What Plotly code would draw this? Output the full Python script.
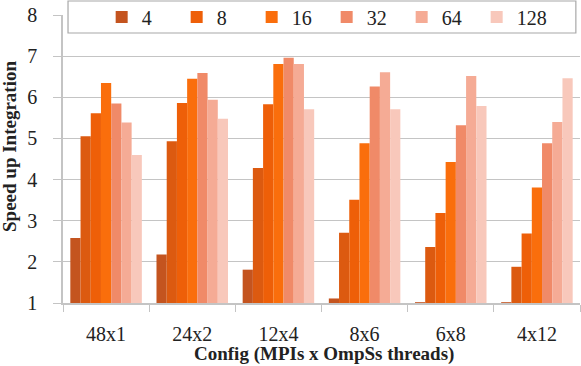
import plotly.graph_objects as go

configs = ["48x1", "24x2", "12x4", "8x6", "6x8", "4x12"]
series = ["4", "", "8", "16", "32", "64", "128"]   # second series has no legend entry
colors = ["#c4541f", "#dc5a10", "#ee5f08", "#fa6e0c", "#f08a68", "#f5ab95", "#f8c8bb"]

speedup = [
    [2.58, 2.18, 1.81, 1.11, 1.02, 1.02],
    [5.05, 4.93, 4.28, 2.71, 2.36, 1.88],
    [5.61, 5.86, 5.83, 3.51, 3.19, 2.69],
    [6.35, 6.45, 6.81, 4.88, 4.43, 3.81],
    [5.85, 6.59, 6.96, 6.26, 5.32, 4.88],
    [5.39, 5.94, 6.81, 6.61, 6.52, 5.40],
    [4.60, 5.48, 5.71, 5.71, 5.79, 6.46],
]

FONT = "Liberation Serif, Times New Roman, serif"
GRID = "#c4c4c4"

fig = go.Figure()
for name, clr, vals in zip(series, colors, speedup):
    fig.add_trace(go.Bar(x=configs, y=vals, name=name or "n/a", showlegend=bool(name),
                         marker=dict(color=clr, line=dict(width=0))))

fig.update_layout(
    width=581, height=366, barmode="group", bargap=0.17, bargroupgap=0,
    paper_bgcolor="white", plot_bgcolor="white",
    font=dict(family=FONT, size=20, color="#222"),
    margin=dict(l=63, r=1, t=15, b=63, autoexpand=False),
    legend=dict(orientation="h", x=0.51, xanchor="center", y=0.993, yanchor="middle",
                bgcolor="rgba(0,0,0,0)", font=dict(size=20), entrywidth=30,
                traceorder="normal"),
    shapes=[dict(type="rect", xref="paper", yref="paper", x0=0.0097, x1=0.992, y0=0.9375, y1=1.0486,
                 fillcolor="white", line=dict(color="#a8a8a8", width=1.2), layer="above")],
    annotations=[
        dict(text="<b>Config (MPIs x OmpSs threads)</b>", xref="paper", yref="paper",
             x=0.505, y=-0.178, xanchor="center", yanchor="middle",
             showarrow=False, font=dict(size=19)),
        dict(text="<b>Speed up Integration</b>", xref="paper", yref="paper",
             x=-0.1025, y=0.5417, xanchor="center", yanchor="middle", textangle=-90,
             showarrow=False, font=dict(size=19)),
    ],
    xaxis=dict(showgrid=False, showline=True, linecolor=GRID, linewidth=1.5, automargin=False,
               ticks="outside", tickson="boundaries", ticklen=7, tickcolor=GRID,
               ticklabelstandoff=12, range=[-0.5, 5.5]),
    yaxis=dict(range=[1, 8], dtick=1, showgrid=True, gridcolor=GRID, gridwidth=1.2,
               showline=True, linecolor=GRID, linewidth=1.5, zeroline=False, automargin=False,
               ticks="outside", ticklen=8, tickcolor=GRID, ticklabelstandoff=12),
)

fig.write_html("out.html", config={"displayModeBar": False},
               post_script="document.body.style.margin='0';")
